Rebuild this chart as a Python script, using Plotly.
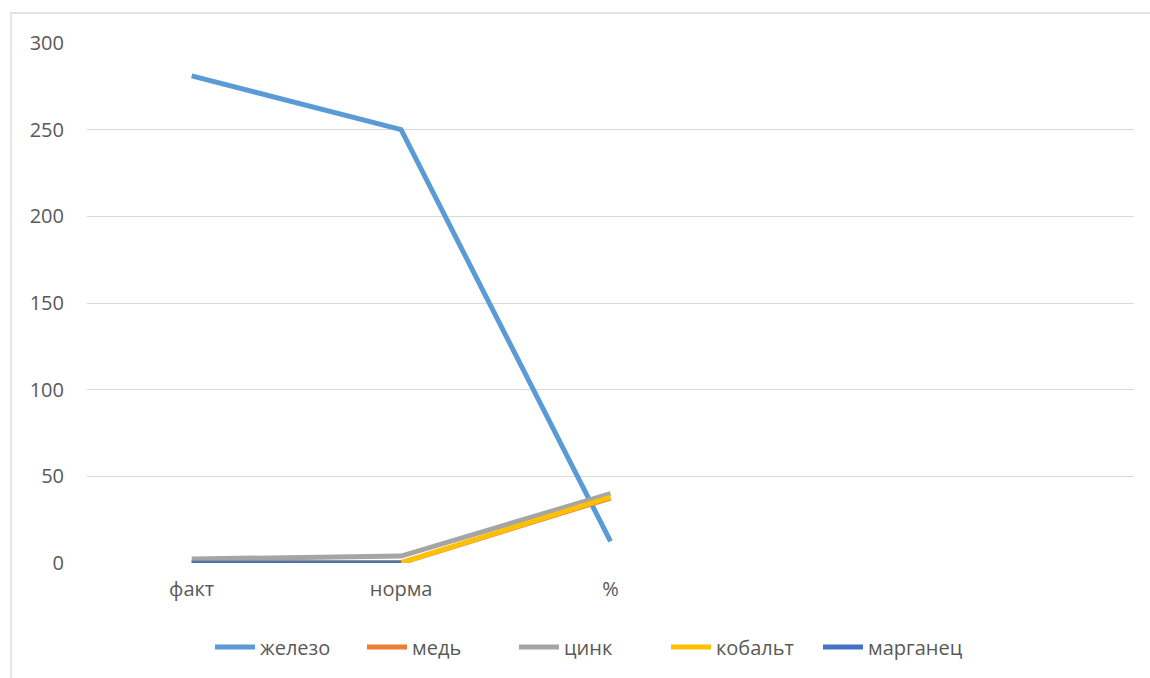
import plotly.graph_objects as go

categories = ["факт", "норма", "%"]
series_names = ["железо", "медь", "цинк", "кобальт", "марганец"]
zhelezo = [281, 250, 12.5]
med = [0.1, 0.1, 37.5]
tsink = [2.3, 4, 40]
kobalt = [0.1, 0.2, 38]
marganets = [0.05, 0.05, None]
colors = ["#5B9BD5", "#ED7D31", "#A5A5A5", "#FFC000", "#4472C4"]
y_ticks = [0, 50, 100, 150, 200, 250, 300]

W, H = 1150, 678
L, R, T, B = 87, 16, 43, 115
pw = W - L - R
ph = H - T - B

fig = go.Figure()
for name, vals, c in zip(series_names, [zhelezo, med, tsink, kobalt, marganets], colors):
    fig.add_trace(go.Scatter(x=categories, y=vals, name=name, mode="lines",
                             line=dict(color=c, width=5), connectgaps=False))

fs = 20
fig.update_layout(
    width=W, height=H,
    margin=dict(l=L, r=R, t=T, b=B),
    paper_bgcolor="white", plot_bgcolor="white",
    font=dict(family="Open Sans, Noto Sans, sans-serif", size=fs, color="#595959"),
    xaxis=dict(type="category", categoryarray=categories, range=[-0.5, 4.5],
               showgrid=False, showline=False, zeroline=False, ticks="",
               tickfont=dict(size=fs, color="#595959"), ticklabelstandoff=12),
    yaxis=dict(range=[0, 300], tickvals=y_ticks, showgrid=True, gridcolor="#d9d9d9",
               gridwidth=1.3, zeroline=False, showline=False, ticks="",
               tickfont=dict(size=fs, color="#595959"), ticklabelstandoff=22),
    legend=dict(orientation="h", x=(590 - L) / pw, xanchor="center",
                y=-(647 - (H - B)) / ph, yanchor="middle",
                font=dict(size=fs, color="#595959"), itemwidth=40,
                entrywidth=97, entrywidthmode="pixels",
                tracegroupgap=0),
    showlegend=True,
)

fig.add_shape(type="rect", xref="paper", yref="paper",
              x0=(11 - L) / pw, x1=(1160 - L) / pw,
              y0=-(700 - (H - B)) / ph, y1=((H - B) - 13) / ph,
              line=dict(color="#d9d9d9", width=1.3), fillcolor="rgba(0,0,0,0)",
              layer="below")

fig.write_html("out.html")
